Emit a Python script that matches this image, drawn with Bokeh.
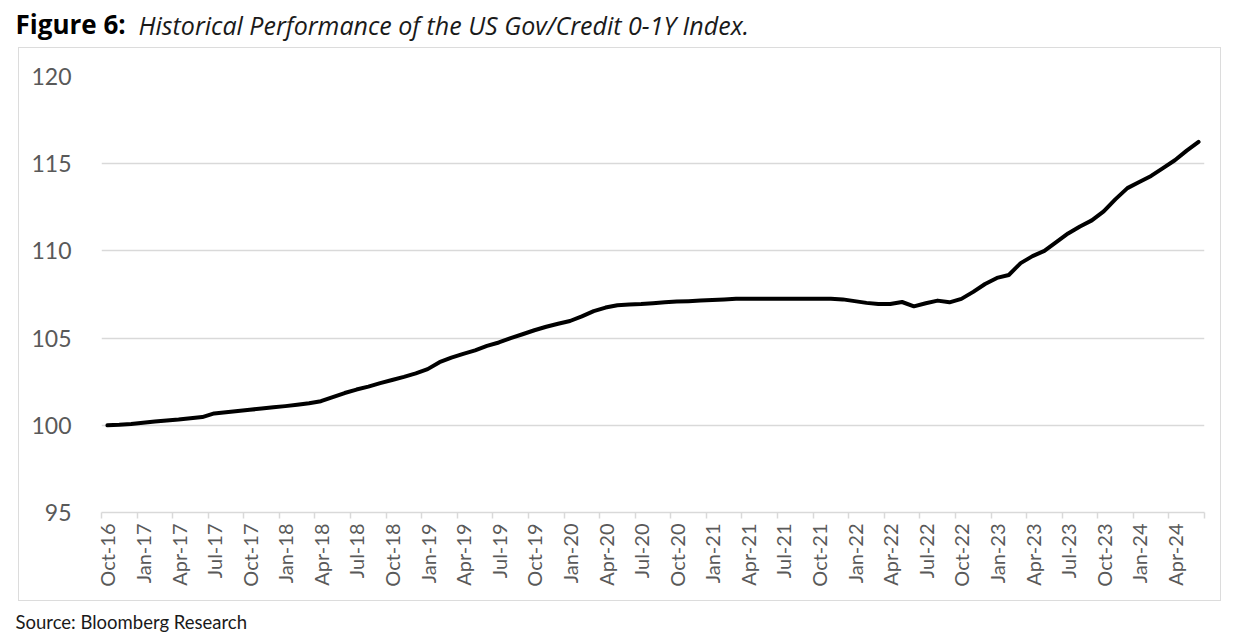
from bokeh.plotting import figure
from bokeh.layouts import column
from bokeh.models import FixedTicker, Range1d
from bokeh.core.properties import value
from bokeh.embed import file_html
from bokeh.resources import INLINE
import math

# Monthly index values, Oct-16 .. Jun-24
values = [
    100.00, 100.03, 100.08, 100.15, 100.22, 100.28, 100.33, 100.40, 100.47, 100.68,
    100.75, 100.82, 100.89, 100.96, 101.03, 101.10, 101.18, 101.27, 101.38, 101.62,
    101.85, 102.05, 102.22, 102.42, 102.60, 102.78, 102.98, 103.22, 103.62, 103.88,
    104.10, 104.30, 104.55, 104.75, 105.00, 105.22, 105.45, 105.65, 105.82, 105.98,
    106.25, 106.55, 106.75, 106.88, 106.92, 106.95, 107.00, 107.05, 107.10, 107.12,
    107.15, 107.18, 107.22, 107.25, 107.25, 107.25, 107.25, 107.25, 107.25, 107.25,
    107.25, 107.25, 107.22, 107.12, 107.02, 106.96, 106.95, 107.07, 106.82, 107.00,
    107.15, 107.05, 107.25, 107.65, 108.10, 108.45, 108.62, 109.30, 109.70, 110.00,
    110.50, 111.00, 111.40, 111.75, 112.27, 112.97, 113.60, 113.95, 114.30, 114.75,
    115.20, 115.75, 116.25,
]
tick_labels = [
    "Oct-16", "Jan-17", "Apr-17", "Jul-17", "Oct-17", "Jan-18", "Apr-18", "Jul-18",
    "Oct-18", "Jan-19", "Apr-19", "Jul-19", "Oct-19", "Jan-20", "Apr-20", "Jul-20",
    "Oct-20", "Jan-21", "Apr-21", "Jul-21", "Oct-21", "Jan-22", "Apr-22", "Jul-22",
    "Oct-22", "Jan-23", "Apr-23", "Jul-23", "Oct-23", "Jan-24", "Apr-24",
]
y_ticks = [95, 100, 105, 110, 115, 120]
title_bold = "Figure 6:"
title_italic = "Historical Performance of the US Gov/Credit 0-1Y Index."
source_text = "Source: Bloomberg Research"

GRAY = "#595959"
GRID = "#d9d9d9"
W = 1240


def text_fig(height):
    f = figure(width=W, height=height, output_backend="svg", toolbar_location=None,
               x_range=Range1d(0, W), y_range=Range1d(0, height),
               x_axis_location=None, y_axis_location=None, min_border=0,
               frame_align=False)
    f.grid.visible = False
    f.outline_line_color = None
    return f


# ---- title strip (y measured downward from the strip top)
t = text_fig(47)
t.y_range = Range1d(47, 0)
t.text(x=[15], y=[23], text=[title_bold], text_font=value("Open Sans"),
       text_font_style="bold", text_font_size="26px", text_color="black",
       text_baseline="middle")
t.text(x=[138], y=[24], text=[title_italic], text_font=value("Open Sans"),
       text_font_style="italic", text_font_size="25px", text_color="#1a1a1a",
       text_baseline="middle")

# ---- main chart (boxed)
n = len(values)
xs = list(range(n))
label_pos = [3 * i for i in range(len(tick_labels))]
boundaries = [3 * i - 0.5 for i in range(len(tick_labels) + 1)] + [n - 0.5]

p = figure(width=1203, height=554, output_backend="svg", toolbar_location=None,
           x_range=Range1d(-0.5, n - 0.5), y_range=Range1d(95, 120),
           min_border_left=82, min_border_right=18, min_border_top=28,
           min_border_bottom=90, margin=(0, 0, 0, 18), frame_align=False,
           styles={"border": "1.5px solid #dcdcdc"})
p.outline_line_color = None

xa = p.xaxis[0]
xa.ticker = FixedTicker(ticks=label_pos, minor_ticks=boundaries)
xa.major_label_overrides = {pos: lab for pos, lab in zip(label_pos, tick_labels)}
xa.major_label_orientation = math.pi / 2
xa.major_tick_out = 0
xa.major_tick_in = 0
xa.minor_tick_out = 6
xa.minor_tick_in = 0
xa.minor_tick_line_color = GRID
xa.minor_tick_line_width = 1.5
xa.axis_line_color = GRID
xa.axis_line_width = 1.5
xa.major_label_text_font = "Lato"
xa.major_label_text_font_size = "20px"
xa.major_label_text_color = GRAY
xa.major_label_standoff = 5

ya = p.yaxis[0]
ya.ticker = FixedTicker(ticks=y_ticks)
ya.axis_line_color = None
ya.major_tick_line_color = None
ya.minor_tick_line_color = None
ya.major_label_text_font = "Lato"
ya.major_label_text_font_size = "23px"
ya.major_label_text_color = GRAY
ya.major_label_standoff = 24

p.xgrid.grid_line_color = None
p.ygrid.ticker = FixedTicker(ticks=[tk for tk in y_ticks if tk > 95])
p.ygrid.grid_line_color = GRID
p.ygrid.grid_line_width = 1.5

p.line(xs, values, line_color="black", line_width=4, line_join="round", line_cap="round")

# ---- source strip (y measured downward from the strip top)
s = text_fig(34)
s.y_range = Range1d(34, 0)
s.text(x=[15], y=[20], text=[source_text], text_font=value("Lato"),
       text_font_size="18.5px", text_color="#1a1a1a", text_baseline="middle")

layout = column(t, p, s, spacing=0)
open("out.html", "w").write(file_html(layout, INLINE))
